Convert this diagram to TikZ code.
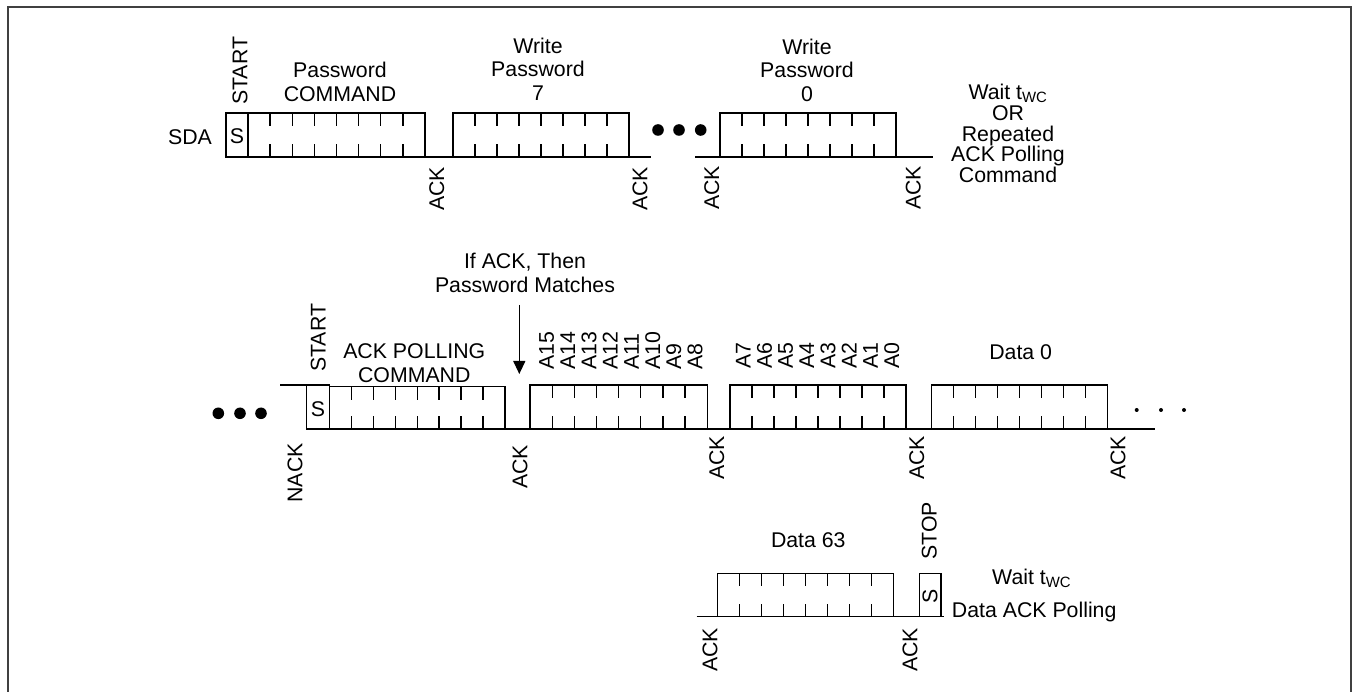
\documentclass[tikz,border=0pt]{standalone}
\usepackage{fontspec}
\setmainfont{Liberation Sans}
\usetikzlibrary{arrows.meta}
\newcommand{\bytebox}[4]{%
  \draw[sig] (#1,#3) rectangle (#2,#4);
  \foreach \k in {1,...,7}{
    \pgfmathsetmacro\xx{#1+(#2-#1)*\k/8}
    \draw[sig] (\xx,#3) -- (\xx,#3+13);
    \draw[sig] (\xx,#4) -- (\xx,#4-13);
  }}
\begin{document}
\begin{tikzpicture}[x=1pt,y=-1pt,
  sig/.style={line width=1.3pt,black},
  txt/.style={font=\fontsize{21.3}{23.5}\selectfont,inner sep=0pt,align=center},
  rot/.style={txt,rotate=90},
  bigdot/.style={fill=black,draw=none},
  frame/.style={line width=2pt,black!75}]
\useasboundingbox (0,0) rectangle (1352,692);
% frame
\draw[frame] (8,692) -- (8,7) -- (1351,7) -- (1351,692);

% ---------- top row ----------
\draw[sig] (226,113) rectangle (248,157);
\node[txt] (s1) at (237,136) {S};
\bytebox{248}{425}{113}{157}
\draw[sig] (425,157) -- (453,157);
\bytebox{453}{629}{113}{157}
\draw[sig] (629,157) -- (651,157);
\foreach \x in {658,679,700.7} \fill[bigdot] (\x,130) circle (5.8);
\draw[sig] (695,157) -- (720,157);
\bytebox{720}{896}{113}{157}
\draw[sig] (896,157) -- (933,157);

\node[txt] (sda) at (190,137) {SDA};
\node[rot,anchor=west] (start1) at (240,105) {START};
\node[txt] (pwcmd) at (340,82) {Password\\COMMAND};
\node[txt] (wp7) at (538,69) {Write\\Password\\7};
\node[txt] (wp0) at (807,70) {Write\\Password\\0};
\node[txt,font=\fontsize{21.3}{20.5}\selectfont] (wait1) at (1008,133)
  {Wait t\textsubscript{WC}\\[1pt]OR\\Repeated\\ACK Polling\\Command};
\node[rot,anchor=east] (ack1) at (436.7,167) {ACK};
\node[rot,anchor=east] (ack2) at (640,167) {ACK};
\node[rot,anchor=east] (ack3) at (711.7,166) {ACK};
\node[rot,anchor=east] (ack4) at (913.3,166) {ACK};

% ---------- middle row ----------
\foreach \x in {218.3,240,261} \fill[bigdot] (\x,413.3) circle (5.8);
\draw[sig] (280,385) -- (306.7,385);
\draw[sig] (306.7,385) rectangle (329.3,429);
\node[txt] (s2) at (318,409) {S};
\bytebox{329.3}{505}{386.7}{429}
\draw[sig] (505,429) -- (530,429);
\bytebox{530}{707.3}{385}{429}
\draw[sig] (707.3,429) -- (730,429);
\bytebox{730}{906}{385}{429}
\draw[sig] (906,429) -- (931.7,429);
\bytebox{931.7}{1107.3}{385}{429}
\draw[sig] (1107.3,429) -- (1155,429);
\foreach \x in {1136.7,1161,1184} \fill[bigdot] (\x,410) circle (2);

\node[rot,anchor=west] (start2) at (318.3,372) {START};
\node[txt] (apc) at (414.3,363) {ACK POLLING\\COMMAND};
\node[txt] (ifack) at (525,273) {If ACK, Then\\Password Matches};
\coordinate (arrtip) at (519.3,374);
\draw[sig,-{Triangle[width=12pt,length=13pt]}] (519.3,305) -- (arrtip);
\foreach \l [count=\i from 0] in {A15,A14,A13,A12,A11,A10,A9,A8}
  \node[rot,anchor=west] (ah\i) at (546.7+21.2*\i,370) {\l};
\foreach \l [count=\i from 0] in {A7,A6,A5,A4,A3,A2,A1,A0}
  \node[rot,anchor=west] (al\i) at (743.3+21.2*\i,369) {\l};
\node[txt] (d0) at (1020.7,352) {Data 0};
\node[rot,anchor=east] (nack) at (295,443) {NACK};
\node[rot,anchor=east] (ack5) at (520,445) {ACK};
\node[rot,anchor=east] (ack6) at (716.7,436) {ACK};
\node[rot,anchor=east] (ack7) at (916.7,436) {ACK};
\node[rot,anchor=east] (ack8) at (1118,436) {ACK};

% ---------- bottom row ----------
\draw[sig] (696.7,616.7) -- (717.3,616.7);
\bytebox{717.3}{893.3}{573.3}{616.7}
\draw[sig] (893.3,616.7) -- (919.3,616.7);
\draw[sig] (919.3,573.3) rectangle (941,616.7);
\node[txt,rotate=90] (s3) at (930,596) {S};
\draw[sig] (941,616.7) -- (943.5,616.7);
\node[txt] (d63) at (808.3,540) {Data 63};
\node[rot,anchor=west] (stop) at (929.3,560) {STOP};
\node[txt] (wait2) at (1031.7,578) {Wait t\textsubscript{WC}};
\node[txt,anchor=west] (dap) at (951.7,612) {Data ACK Polling};
\node[rot,anchor=east] (ack9) at (710,628) {ACK};
\node[rot,anchor=east] (ack10) at (910,628) {ACK};
\end{tikzpicture}
\end{document}
